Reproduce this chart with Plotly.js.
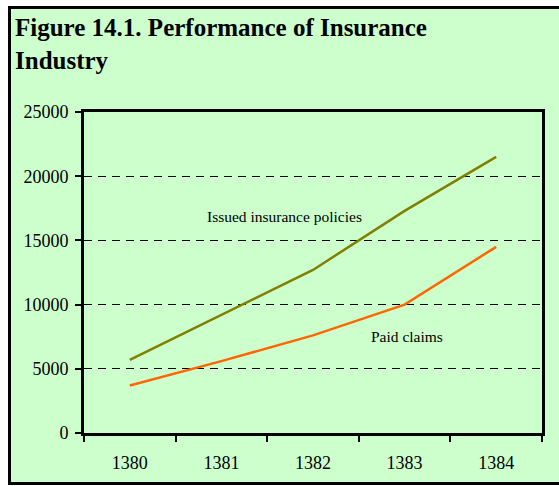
<!DOCTYPE html>
<html>
<head>
<meta charset="utf-8">
<script src="https://cdn.plot.ly/plotly-3.0.1.min.js"></script>
<style>
html,body{margin:0;padding:0;background:#fff;}
#chart{width:559px;height:486px;}
</style>
</head>
<body>
<div id="chart"></div>
<script>
// Data
const years = ['1380', '1381', '1382', '1383', '1384'];
const issuedPolicies = [5700, 9200, 12700, 17300, 21500];
const paidClaims = [3700, 5600, 7600, 10000, 14500];
const seriesNames = ['Issued insurance policies', 'Paid claims'];
const yTicks = [0, 5000, 10000, 15000, 20000, 25000];
const chartTitle = 'Figure 14.1. Performance of Insurance<br>Industry';

const serif = '"Liberation Serif", "Times New Roman", Times, serif';

const traces = [
  {
    x: years, y: issuedPolicies, name: seriesNames[0], type: 'scatter', mode: 'lines',
    line: {color: '#808000', width: 2.5}
  },
  {
    x: years, y: paidClaims, name: seriesNames[1], type: 'scatter', mode: 'lines',
    line: {color: '#FF6600', width: 2.5}
  }
];

// pixel -> paper helpers for the frame
const L = 84, R = 17, T = 112, B = 53, W = 559, H = 486;
const pw = W - L - R, ph = H - T - B;
const px = v => (v - L) / pw;
const py = v => (H - B - v) / ph;

const layout = {
  width: W, height: H,
  margin: {l: L, r: R, t: T, b: B, pad: 0},
  paper_bgcolor: '#ffffff',
  plot_bgcolor: '#ffffff',
  showlegend: false,
  hovermode: false,
  font: {family: serif, size: 18, color: '#000'},
  xaxis: {
    type: 'category',
    range: [-0.5, 4.5],
    tickson: 'boundaries',
    ticks: 'outside', ticklen: 6, tickwidth: 2, tickcolor: '#000',
    ticklabelstandoff: 11,
    showline: true, linecolor: '#000', linewidth: 3, mirror: true,
    showgrid: false, zeroline: false,
    tickfont: {family: serif, size: 18, color: '#000'}
  },
  yaxis: {
    range: [0, 25000],
    tickvals: yTicks,
    ticktext: yTicks.map(String),
    ticks: 'outside', ticklen: 6, tickwidth: 2, tickcolor: '#000',
    ticklabelstandoff: 3,
    showline: true, linecolor: '#000', linewidth: 3, mirror: true,
    showgrid: true, gridcolor: '#000', gridwidth: 1, griddash: '8px,6px',
    zeroline: false,
    tickfont: {family: serif, size: 18, color: '#000'}
  },
  shapes: [
    {
      type: 'rect', xref: 'paper', yref: 'paper', layer: 'below',
      x0: px(9.5), x1: px(600), y0: py(483.5), y1: py(7.5),
      fillcolor: '#CCFFCC', line: {color: '#000', width: 3}
    }
  ],
  annotations: [
    {
      xref: 'paper', yref: 'paper', x: px(13), y: py(12),
      xanchor: 'left', yanchor: 'top', align: 'left',
      text: chartTitle, showarrow: false,
      font: {family: serif, size: 25, weight: 'bold', color: '#000'}
    },
    {
      x: 1.694, y: 16900, xref: 'x', yref: 'y', text: seriesNames[0],
      showarrow: false, font: {family: serif, size: 15.5, color: '#000'}
    },
    {
      x: 3.026, y: 7500, xref: 'x', yref: 'y', text: seriesNames[1],
      showarrow: false, font: {family: serif, size: 15.5, color: '#000'}
    }
  ]
};

Plotly.newPlot('chart', traces, layout, {displayModeBar: false, staticPlot: true});
</script>
</body>
</html>
